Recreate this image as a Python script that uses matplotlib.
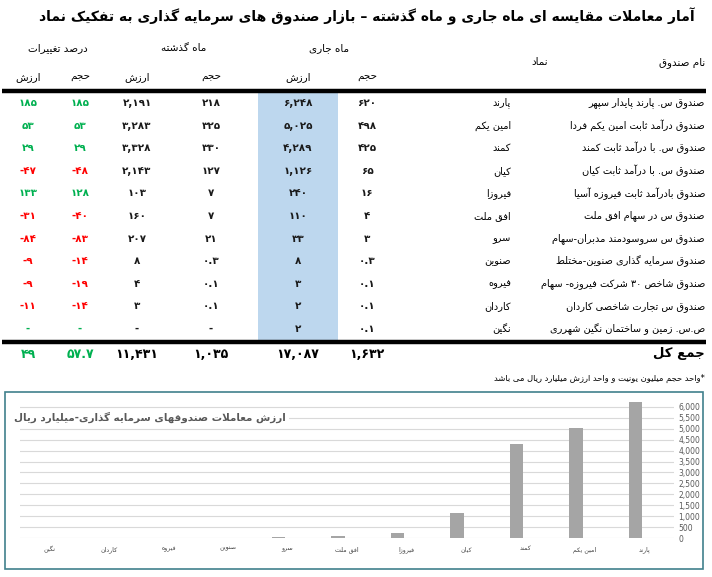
import re
import numpy as np
import matplotlib
matplotlib.use("Agg")
import matplotlib.pyplot as plt
from matplotlib.patches import Rectangle

# =========================
# Data
# =========================
fund_names = [
    "صندوق س. پارند پایدار سپهر",
    "صندوق درآمد ثابت امین یکم فردا",
    "صندوق س. با درآمد ثابت کمند",
    "صندوق س. با درآمد ثابت کیان",
    "صندوق بادرآمد ثابت فیروزه آسیا",
    "صندوق س در سهام افق ملت",
    "صندوق س سروسودمند مدبران-سهام",
    "صندوق سرمایه گذاری صنوین-مختلط",
    "صندوق شاخص ۳۰ شرکت فیروزه- سهام",
    "صندوق س تجارت شاخصی کاردان",
    "ص.س. زمین و ساختمان نگین شهرری",
]
symbols = ["پارند", "امین یکم", "کمند", "کیان", "فیروزا", "افق ملت",
           "سرو", "صنوین", "فیروه", "کاردان", "نگین"]
cur_vol = [620, 498, 425, 65, 16, 4, 3, 0.3, 0.1, 0.1, 0.1]
cur_val = [6248, 5025, 4289, 1126, 240, 110, 33, 8, 3, 2, 2]
prev_vol = [218, 325, 330, 127, 7, 7, 21, 0.3, 0.1, 0.1, None]
prev_val = [2191, 3283, 3328, 2143, 103, 160, 207, 8, 4, 3, None]
chg_vol = [185, 53, 29, -48, 128, -40, -83, -14, -19, -14, None]
chg_val = [185, 53, 29, -47, 133, -31, -84, -9, -9, -11, None]
# totals row as printed: cur vol, cur val, prev vol, prev val, chg vol, chg val
totals = [1632, 17087, 1035, 11431, 57.7, 49]

title = "آمار معاملات مقایسه ای ماه جاری و ماه گذشته – بازار صندوق های سرمایه گذاری به تفکیک نماد"
note = "*واحد حجم میلیون یونیت و واحد ارزش میلیارد ریال می باشد"
chart_title = "ارزش معاملات صندوقهای سرمایه گذاری-میلیارد ریال"

# =========================
# Minimal Persian shaping (no arabic_reshaper available)
# =========================
FORMS = {
    "\u0622": "\uFE81\uFE82", "\u0623": "\uFE83\uFE84", "\u0625": "\uFE87\uFE88",
    "\u0624": "\uFE85\uFE86", "\u0627": "\uFE8D\uFE8E",
    "\u0628": "\uFE8F\uFE90\uFE91\uFE92", "\u067E": "\uFB56\uFB57\uFB58\uFB59",
    "\u062A": "\uFE95\uFE96\uFE97\uFE98", "\u062B": "\uFE99\uFE9A\uFE9B\uFE9C",
    "\u062C": "\uFE9D\uFE9E\uFE9F\uFEA0", "\u0686": "\uFB7A\uFB7B\uFB7C\uFB7D",
    "\u062D": "\uFEA1\uFEA2\uFEA3\uFEA4", "\u062E": "\uFEA5\uFEA6\uFEA7\uFEA8",
    "\u062F": "\uFEA9\uFEAA", "\u0630": "\uFEAB\uFEAC", "\u0631": "\uFEAD\uFEAE",
    "\u0632": "\uFEAF\uFEB0", "\u0698": "\uFB8A\uFB8B",
    "\u0633": "\uFEB1\uFEB2\uFEB3\uFEB4", "\u0634": "\uFEB5\uFEB6\uFEB7\uFEB8",
    "\u0635": "\uFEB9\uFEBA\uFEBB\uFEBC", "\u0636": "\uFEBD\uFEBE\uFEBF\uFEC0",
    "\u0637": "\uFEC1\uFEC2\uFEC3\uFEC4", "\u0638": "\uFEC5\uFEC6\uFEC7\uFEC8",
    "\u0639": "\uFEC9\uFECA\uFECB\uFECC", "\u063A": "\uFECD\uFECE\uFECF\uFED0",
    "\u0641": "\uFED1\uFED2\uFED3\uFED4", "\u0642": "\uFED5\uFED6\uFED7\uFED8",
    "\u06A9": "\uFB8E\uFB8F\uFB90\uFB91", "\u0643": "\uFED9\uFEDA\uFEDB\uFEDC",
    "\u06AF": "\uFB92\uFB93\uFB94\uFB95", "\u0644": "\uFEDD\uFEDE\uFEDF\uFEE0",
    "\u0645": "\uFEE1\uFEE2\uFEE3\uFEE4", "\u0646": "\uFEE5\uFEE6\uFEE7\uFEE8",
    "\u0648": "\uFEED\uFEEE", "\u0647": "\uFEE9\uFEEA\uFEEB\uFEEC",
    "\u06CC": "\uFBFC\uFBFD\uFBFE\uFBFF", "\u064A": "\uFEF1\uFEF2\uFEF3\uFEF4",
    "\u0626": "\uFE89\uFE8A\uFE8B\uFE8C", "\u0629": "\uFE93\uFE94",
}
LAM_ALEF = {"\u0627": "\uFEFB\uFEFC", "\u0622": "\uFEF5\uFEF6"}


def shape(text):
    out = []
    i, n = 0, len(text)
    while i < n:
        c = text[i]
        if c not in FORMS:
            out.append(c)
            i += 1
            continue
        prev = text[i - 1] if i > 0 else ""
        cp = prev in FORMS and len(FORMS[prev]) == 4
        if c == "\u0644" and i + 1 < n and text[i + 1] in LAM_ALEF:
            lig = LAM_ALEF[text[i + 1]]
            out.append(lig[1] if cp else lig[0])
            i += 2
            continue
        nxt = text[i + 1] if i + 1 < n else ""
        cn = len(FORMS[c]) == 4 and nxt in FORMS
        f = FORMS[c]
        if cp and cn:
            out.append(f[3])
        elif cn:
            out.append(f[2])
        elif cp:
            out.append(f[1])
        else:
            out.append(f[0])
        i += 1
    return "".join(out)


def fa(text):
    shaped = shape(text)
    tokens = re.findall(r"[0-9\u06F0-\u06F9]+(?:[.,][0-9\u06F0-\u06F9]+)*|.", shaped, re.S)
    return "".join(reversed(tokens))


FA_DIGITS = str.maketrans("0123456789", "۰۱۲۳۴۵۶۷۸۹")


def fa_num(v):
    if v is None:
        return "-"
    if float(v).is_integer():
        s = f"{int(v):,}"
    else:
        s = f"{v:,.1f}"
    return s.translate(FA_DIGITS)


plt.rcParams["font.family"] = ["DejaVu Sans"]

# =========================
# Figure / table part (pixel coordinates)
# =========================
W, H = 712, 577
fig = plt.figure(figsize=(W / 100, H / 100), dpi=100)
bg = fig.add_axes([0, 0, 1, 1])
bg.set_xlim(0, W)
bg.set_ylim(H, 0)
bg.axis("off")

green = "#00b050"
red = "#ff0000"

bg.text(367, 16, fa(title), ha="center", va="center", fontsize=10, fontweight="bold")

# column x centres: chg val, chg vol, prev val, prev vol, cur val, cur vol
col_x = [28, 80, 137, 211, 298, 367]
hdr = 7.5
bg.text(58, 48, fa("درصد تغییرات"), ha="center", va="center", fontsize=hdr)
bg.text(184, 48, fa("ماه گذشته"), ha="center", va="center", fontsize=hdr)
bg.text(329, 48, fa("ماه جاری"), ha="center", va="center", fontsize=hdr)
bg.text(548, 62, fa("نماد"), ha="right", va="center", fontsize=hdr)
bg.text(705, 63, fa("نام صندوق"), ha="right", va="center", fontsize=hdr)
for x, lab in zip(col_x, ["ارزش", "حجم", "ارزش", "حجم", "ارزش", "حجم"]):
    bg.text(x, 77, fa(lab), ha="center", va="center", fontsize=hdr)

# highlighted current value column
bg.add_patch(Rectangle((258, 92), 80, 248, facecolor="#bdd7ee", edgecolor="none", zorder=0))
bg.plot([2, 706], [90.5, 90.5], color="black", lw=3.2, solid_capstyle="butt")
bg.plot([2, 706], [342, 342], color="black", lw=3.2, solid_capstyle="butt")

row_y = 103
step = 22.6
for i in range(len(fund_names)):
    y = row_y + i * step
    bg.text(705, y, fa(fund_names[i]), ha="right", va="center", fontsize=7)
    bg.text(511, y, fa(symbols[i]), ha="right", va="center", fontsize=7)
    vals = [chg_val[i], chg_vol[i], prev_val[i], prev_vol[i], cur_val[i], cur_vol[i]]
    for j, (x, v) in enumerate(zip(col_x, vals)):
        color = "#1a1a1a"
        if j < 2:
            color = green if (v is None or v >= 0) else red
        bg.text(x, y, fa_num(v), ha="center", va="center", fontsize=7.5,
                fontweight="bold", color=color)

# totals
tot_vals = [totals[5], totals[4], totals[3], totals[2], totals[1], totals[0]]
for j, (x, v) in enumerate(zip(col_x, tot_vals)):
    color = green if j < 2 else "black"
    bg.text(x, 354, fa_num(v), ha="center", va="center", fontsize=9,
            fontweight="bold", color=color)
bg.text(705, 354, fa("جمع کل"), ha="right", va="center", fontsize=9.5, fontweight="bold")
bg.text(705, 378, fa(note), ha="right", va="center", fontsize=6)

# =========================
# Bar chart
# =========================
bg.add_patch(Rectangle((5, 392), 698, 177, facecolor="white", edgecolor="#41808c", lw=1.2))

ax = fig.add_axes([20 / W, (H - 538) / H, (674 - 20) / W, (538 - 396) / H])
ax.patch.set_alpha(0)
n = len(symbols)
x = np.arange(n)
ax.bar(x + 0.15, cur_val, width=0.23, color="#a5a5a5", zorder=3)
ax.set_xlim(n - 0.5, -0.5)
ax.set_ylim(0, 6500)
ax.set_yticks(np.arange(0, 6001, 500))
ax.set_yticklabels([f"{t:,}" for t in range(0, 6001, 500)], fontsize=5.5, color="#595959")
ax.yaxis.tick_right()
ax.tick_params(axis="y", length=0, pad=3)
ax.set_xticks(x)
ax.set_xticklabels([fa(s) for s in symbols], fontsize=4.5, color="#404040")
ax.tick_params(axis="x", length=0, pad=6)
ax.grid(axis="y", color="#d9d9d9", lw=0.8)
ax.set_axisbelow(True)
for s in ax.spines.values():
    s.set_visible(False)

# chart title sits on a white box over the gridlines
fig.text(14 / W, 1 - 417 / H, fa(chart_title), ha="left", va="center", fontsize=7.5,
         fontweight="bold", color="#595959", zorder=5,
         bbox=dict(facecolor="white", edgecolor="none", pad=2))

fig.savefig("out.png", dpi=100)
